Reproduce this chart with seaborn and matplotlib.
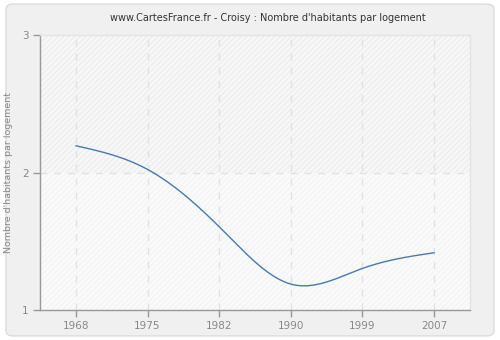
import numpy as np
import pandas as pd
import matplotlib
matplotlib.use("Agg")
import matplotlib.pyplot as plt
import seaborn as sns
from matplotlib.patches import FancyBboxPatch

years = [1968, 1975, 1982, 1990, 1999, 2007]
values = [2.195, 2.023, 1.606, 1.189, 1.303, 1.417]
tick_labels = ["1968", "1975", "1982", "1990", "1999", "2007"]
title = "www.CartesFrance.fr - Croisy : Nombre d'habitants par logement"
ylabel = "Nombre d'habitants par logement"


def natural_spline(x, y, n=400):
    x = np.asarray(x, float)
    y = np.asarray(y, float)
    k = len(x)
    h = np.diff(x)
    A = np.zeros((k, k))
    b = np.zeros(k)
    A[0, 0] = 1
    A[-1, -1] = 1
    for i in range(1, k - 1):
        A[i, i - 1] = h[i - 1]
        A[i, i] = 2 * (h[i - 1] + h[i])
        A[i, i + 1] = h[i]
        b[i] = 6 * ((y[i + 1] - y[i]) / h[i] - (y[i] - y[i - 1]) / h[i - 1])
    M = np.linalg.solve(A, b)
    xs = np.linspace(x[0], x[-1], n)
    ys = np.empty_like(xs)
    for j, t in enumerate(xs):
        i = min(np.searchsorted(x, t, side="right") - 1, k - 2)
        dx = t - x[i]
        hi = h[i]
        a = y[i]
        bb = (y[i + 1] - y[i]) / hi - hi * (2 * M[i] + M[i + 1]) / 6
        c = M[i] / 2
        d = (M[i + 1] - M[i]) / (6 * hi)
        ys[j] = a + bb * dx + c * dx ** 2 + d * dx ** 3
    return xs, ys


sns.set_theme(style="white")
plt.rcParams["font.family"] = ["DejaVu Sans"]
plt.rcParams["hatch.linewidth"] = 0.6

fig = plt.figure(figsize=(5, 3.4), dpi=100)
fig.patch.set_facecolor("white")
bg = FancyBboxPatch((0.012, 0.012), 0.976, 0.976, boxstyle="round,pad=0,rounding_size=0.015",
                    transform=fig.transFigure, facecolor="#f0f0f0", edgecolor="#dcdcdc",
                    linewidth=1.0, zorder=-10)
fig.patches.append(bg)

ax = fig.add_axes([0.08, 0.088, 0.86, 0.809])
ax.set_zorder(1)
ax.set_facecolor("#fcfcfc")
ax.axhspan(2, 3, facecolor="#f7f7f7", hatch="//////", edgecolor="#e9e9e9", linewidth=0, zorder=0)
ax.axhspan(1, 2, facecolor="#fafafa", hatch="//////", edgecolor="#f1f1f1", linewidth=0, zorder=0)

# categorical (evenly spaced) x positions
pos = np.arange(len(years))
xs, ys = natural_spline(pos, values)
df = pd.DataFrame({"pos": xs, "value": ys})
sns.lineplot(data=df, x="pos", y="value", ax=ax, color="#4a78b0", linewidth=1.0, zorder=3)

ax.set_xlim(-0.5, len(years) - 0.5)
ax.set_ylim(1, 3)
ax.set_xticks(pos)
ax.set_xticklabels(tick_labels)
ax.set_yticks([1, 2, 3])
ax.set_yticklabels(["1", "2", "3"])
for x in pos:
    ax.axvline(x, color="#e2e2e2", linestyle=(0, (5, 5)), linewidth=1, zorder=1)
ax.axhline(2, color="#e2e2e2", linestyle=(0, (5, 5)), linewidth=1, zorder=1)

for s in ["left", "bottom"]:
    ax.spines[s].set_color("#999999")
    ax.spines[s].set_linewidth(1)
for s in ["top", "right"]:
    ax.spines[s].set_color("#e4e4e4")
    ax.spines[s].set_linewidth(1)

ax.tick_params(axis="both", which="major", direction="out", length=5, width=1,
               color="#999999", labelcolor="#888888", labelsize=7.5, bottom=True, left=True, pad=3)
ax.set_xlabel("")
ax.set_ylabel(ylabel, color="#888888", fontsize=6.8)
ax.yaxis.set_label_coords(-0.063, 0.5)
fig.text(0.535, 0.947, title, ha="center", va="center", fontsize=7.0, color="#333333")

fig.savefig("out.png", dpi=100, facecolor=fig.get_facecolor())
